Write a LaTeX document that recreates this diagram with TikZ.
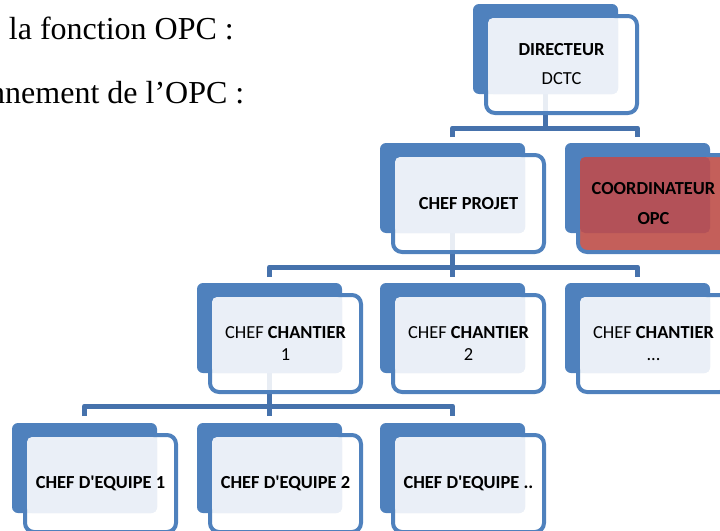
\documentclass[tikz,border=0pt]{standalone}
\usepackage{fontspec}
\setmainfont{Carlito}[Ligatures=TeXOff]
\newfontfamily\bodyserif{Liberation Serif}
\usetikzlibrary{calc}

\definecolor{boxblue}{RGB}{79,129,189}
\definecolor{linkblue}{RGB}{70,114,172}
\definecolor{paleblue}{RGB}{234,239,247}
\definecolor{optred}{RGB}{196,95,90}
\definecolor{optredin}{RGB}{179,81,88}

\pgfdeclarelayer{links}
\pgfsetlayers{links,main}

\tikzset{
  backbox/.style={fill=boxblue, rounded corners=6pt, minimum width=145pt,
    minimum height=90pt, inner sep=0pt, outer sep=0pt},
  frontbox/.style={draw=boxblue, line width=4pt, rounded corners=9pt,
    minimum width=151pt, minimum height=97pt, inner sep=0pt, outer sep=0pt},
  plainfront/.style={fill=white, fill opacity=0.88},
  redfront/.style={fill=optred},
  unitlabel/.style={align=center, inner sep=0pt},
  conn/.style={draw=linkblue, line width=5pt, line join=round},
  bodytext/.style={inner sep=0pt, font=\bodyserif\fontsize{32}{38}\selectfont},
}

% #1 name, #2/#3 top-left of the back panel, #4 front style, #5 overlap fill,
% #6 baseline skip, #7 label
\newcommand\orgunit[7]{%
  \node[backbox] (#1B) at ({#2+72.5},{#3+45}) {};
  \node[frontbox, #4] (#1F) at ({#2+88.5},{#3+60.5}) {};
  \fill[#5, rounded corners=5pt] ({#2+15},{#3+14}) rectangle ({#2+145},{#3+90});
  \node[unitlabel, font=\fontsize{18.4}{#6}\selectfont] (#1) at (#1F.center) {#7};
}

\begin{document}
\begin{tikzpicture}[x=1pt, y=-1pt]
\useasboundingbox (0,0) rectangle (720,530);

% running text
\node[bodytext, anchor=base east] (t1) at (234,39) {la fonction OPC :};
\node[bodytext, anchor=base west] (t2) at (-11,103) {nnement de l’OPC :};

% units
\orgunit{dir}{473}{4}{plainfront}{paleblue}{29}{\textbf{DIRECTEUR}\\DCTC}
\orgunit{proj}{380}{143}{plainfront}{paleblue}{22}{\textbf{CHEF PROJET}}
\orgunit{coord}{565}{143}{redfront}{optredin}{30}{\textbf{COORDINATEUR}\\\textbf{OPC}}
\orgunit{chA}{197}{283}{plainfront}{paleblue}{22}{CHEF \textbf{CHANTIER}\\1}
\orgunit{chB}{380}{283}{plainfront}{paleblue}{22}{CHEF \textbf{CHANTIER}\\2}
\orgunit{chC}{565}{283}{plainfront}{paleblue}{22}{CHEF \textbf{CHANTIER}\\...}
\orgunit{eqA}{12}{423}{plainfront}{paleblue}{22}{\textbf{CHEF D'EQUIPE 1}}
\orgunit{eqB}{197}{423}{plainfront}{paleblue}{22}{\textbf{CHEF D'EQUIPE 2}}
\orgunit{eqC}{380}{423}{plainfront}{paleblue}{22}{\textbf{CHEF D'EQUIPE ..}}

% bus levels
\coordinate (bus1) at (0,128);
\coordinate (bus2) at (0,267);
\coordinate (bus3) at (0,406);

\begin{pgfonlayer}{links}
  \draw[conn] (dirB.center) -- (dirB.center |- bus1);
  \draw[conn] ([yshift=6pt]projB.north) -- (projB.north |- bus1)
              -- (coordB.north |- bus1) -- ([yshift=6pt]coordB.north);

  \draw[conn] (projB.center) -- (projB.center |- bus2);
  \draw[conn] ([yshift=6pt]chAB.north) -- (chAB.north |- bus2)
              -- (chCB.north |- bus2) -- ([yshift=6pt]chCB.north);
  \draw[conn] (chBB.north |- bus2) -- ([yshift=6pt]chBB.north);

  \draw[conn] (chAB.center) -- (chAB.center |- bus3);
  \draw[conn] ([yshift=7pt]eqAB.north) -- (eqAB.north |- bus3)
              -- (eqCB.north |- bus3) -- ([yshift=7pt]eqCB.north);
  \draw[conn] (eqBB.north |- bus3) -- ([yshift=7pt]eqBB.north);
\end{pgfonlayer}
\end{tikzpicture}
\end{document}
